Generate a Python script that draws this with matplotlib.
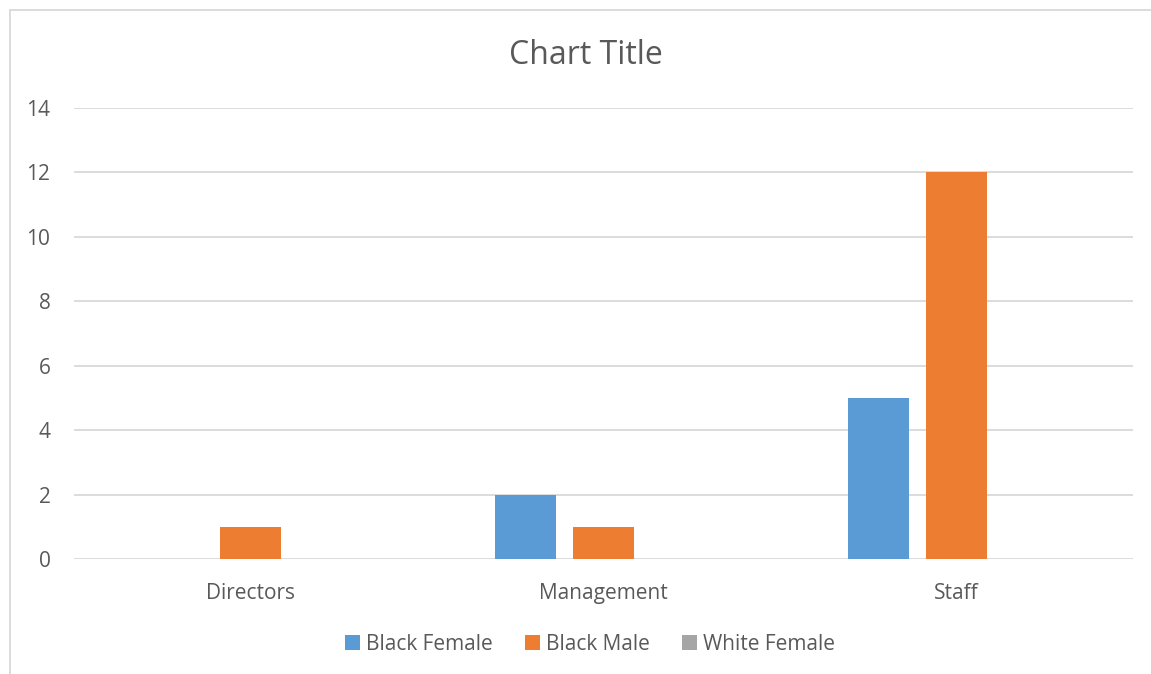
import matplotlib.pyplot as plt
import numpy as np
from matplotlib.patches import Rectangle

plt.rcParams["font.family"] = ["Open Sans", "DejaVu Sans"]

categories = ["Directors", "Management", "Staff"]
black_female = [0, 2, 5]
black_male = [1, 1, 12]
white_female = [0, 0, 0]
series_names = ["Black Female", "Black Male", "White Female"]
colors = ["#5b9bd5", "#ed7d31", "#a5a5a5"]

W, H = 1151, 674
fig = plt.figure(figsize=(W / 100, H / 100), dpi=100)
ax = fig.add_axes([74 / W, (H - 559) / H, (1133 - 74) / W, (559 - 108) / H])

x = np.arange(len(categories))
bar_w = 0.175
step = 0.221
for i, (vals, name, c) in enumerate(zip([black_female, black_male, white_female], series_names, colors)):
    ax.bar(x + (i - 1) * step, vals, bar_w, color=c, label=name, zorder=3)

ax.set_xlim(-0.5, 2.5)
ax.set_ylim(0, 14)
ax.set_yticks(range(0, 15, 2))
ax.set_xticks(x, categories)
ax.grid(True, axis="y", color="#d9d9d9", lw=1.3, zorder=0)
for s in ax.spines.values():
    s.set_visible(False)
ax.tick_params(length=0, labelsize=15, colors="#595959")
ax.tick_params(axis="y", pad=17)
ax.tick_params(axis="x", pad=17)

fig.text(586 / W, 1 - 55 / H, "Chart Title", ha="center", va="center", fontsize=23, color="#595959")

ax.legend(loc="center", bbox_to_anchor=(590 / W, 1 - 644 / H), bbox_transform=fig.transFigure,
          ncol=3, frameon=False, fontsize=15, labelcolor="#595959", handlelength=0.75,
          handleheight=0.75, handletextpad=0.3, columnspacing=1.5)

fig.add_artist(Rectangle((10 / W, -0.1), 1.2, (H - 10) / H + 0.1, transform=fig.transFigure,
                         fill=False, ec="#d9d9d9", lw=1.3, clip_on=False))

fig.savefig("out.png", dpi=100)
